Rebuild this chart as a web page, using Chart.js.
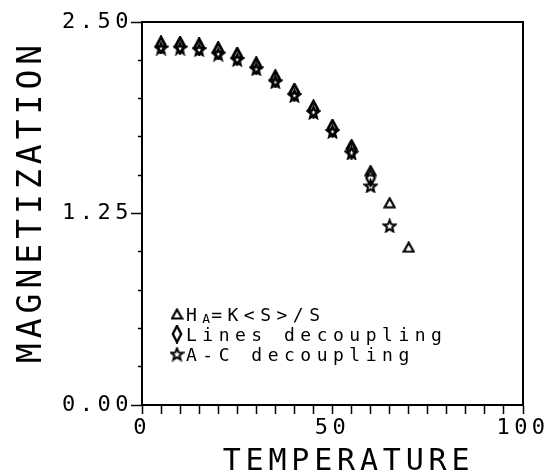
<!DOCTYPE html>
<html>
<head>
<meta charset="utf-8">
<script src="https://cdn.jsdelivr.net/npm/chart.js@4"></script>
<style>
  html, body { margin: 0; padding: 0; background: #fff; }
  #wrap { width: 550px; height: 476px; }
</style>
</head>
<body>
<div id="wrap"><canvas id="c"></canvas></div>
<script>
// Temperatures at which the magnetization was computed
const temperatures = [5, 10, 15, 20, 25, 30, 35, 40, 45, 50, 55, 60, 65, 70];
// H_A = K<S>/S approximation
const haValues = [2.37, 2.37, 2.36, 2.335, 2.30, 2.235, 2.15, 2.065, 1.955, 1.83, 1.70, 1.53, 1.32, 1.03];
// Lines decoupling
const linesValues = [2.35, 2.347, 2.337, 2.311, 2.275, 2.213, 2.128, 2.04, 1.929, 1.805, 1.664, 1.482];
// A-C decoupling
const acValues = [2.33, 2.33, 2.32, 2.29, 2.255, 2.195, 2.11, 2.02, 1.91, 1.785, 1.645, 1.43, 1.17];

const seriesLabels = ['H_A=K<S>/S', 'Lines decoupling', 'A-C decoupling'];
const xTickLabels = [0, 50, 100];
const yTickLabels = [0, 1.25, 2.5];
const xTitle = 'TEMPERATURE';
const yTitle = 'MAGNETIZATION';

const FONT = "'DejaVu Sans Mono', monospace";

// Open marker glyphs
function makeMarker(kind) {
  const c = document.createElement('canvas');
  const g = c.getContext('2d');
  let w, h;
  if (kind === 'triangle') { w = 13; h = 12; }
  else if (kind === 'diamond') { w = 12; h = 19; }
  else { w = 15; h = 15; }
  c.width = w; c.height = h;
  g.strokeStyle = '#000';
  g.lineJoin = 'miter';
  g.beginPath();
  if (kind === 'triangle') {
    g.lineWidth = 2.2;
    g.moveTo(w / 2, 1.5); g.lineTo(w - 1.5, h - 1.5); g.lineTo(1.5, h - 1.5); g.closePath();
  } else if (kind === 'diamond') {
    g.lineWidth = 2.4;
    g.moveTo(w / 2, 1.5); g.lineTo(w - 1.8, h / 2); g.lineTo(w / 2, h - 1.5); g.lineTo(1.8, h / 2); g.closePath();
  } else {
    g.lineWidth = 2;
    const cx = w / 2, cy = h / 2 + 0.6, ro = 6.2, ri = 2.7;
    for (let k = 0; k < 10; k++) {
      const r = k % 2 ? ri : ro;
      const a = -Math.PI / 2 + k * Math.PI / 5;
      const px = cx + r * Math.cos(a), py = cy + r * Math.sin(a);
      if (k === 0) g.moveTo(px, py); else g.lineTo(px, py);
    }
    g.closePath();
  }
  g.stroke();
  return c;
}

const triMark = makeMarker('triangle');
const diaMark = makeMarker('diamond');
const starMark = makeMarker('star');

const toPoints = vals => vals.map((v, i) => ({ x: temperatures[i], y: v }));
const isMajorY = v => yTickLabels.some(t => Math.abs(t - v) < 1e-6);

// Draw a label where "_X" is a subscript character
function drawRich(ctx, text, x, y, size) {
  const parts = text.split(/(_\w)/).filter(s => s.length);
  let cx = x;
  parts.forEach(p => {
    if (p[0] === '_') {
      ctx.font = `${Math.round(size * 0.7)}px ${FONT}`;
      ctx.letterSpacing = '1px';
      ctx.fillText(p[1], cx, y + 2);
      cx += ctx.measureText(p[1]).width;
    } else {
      ctx.font = `${size}px ${FONT}`;
      ctx.letterSpacing = '5.5px';
      ctx.fillText(p, cx, y);
      cx += ctx.measureText(p).width;
    }
  });
}

const spacingPlugin = {
  id: 'tickSpacing',
  beforeDraw(chart) { chart.ctx.letterSpacing = '4.5px'; }
};

const decorPlugin = {
  id: 'decor',
  afterDraw(chart) {
    const ctx = chart.ctx;
    const a = chart.chartArea;
    ctx.save();
    // frame: top and right edges
    ctx.strokeStyle = '#000';
    ctx.lineWidth = 2;
    ctx.beginPath();
    ctx.moveTo(a.left, a.top);
    ctx.lineTo(a.right, a.top);
    ctx.lineTo(a.right, a.bottom);
    ctx.stroke();

    ctx.fillStyle = '#000';
    // x-axis title
    ctx.font = `30px ${FONT}`;
    ctx.letterSpacing = '4.8px';
    ctx.textAlign = 'center';
    ctx.textBaseline = 'alphabetic';
    ctx.fillText(xTitle, (a.left + a.right) / 2 + 16, 470);
    // y-axis title
    ctx.save();
    ctx.translate(41, (a.top + a.bottom) / 2 - 12);
    ctx.rotate(-Math.PI / 2);
    ctx.font = `33px ${FONT}`;
    ctx.letterSpacing = '5px';
    ctx.fillText(yTitle, 0, 0);
    ctx.restore();

    // legend
    ctx.textAlign = 'left';
    const marks = [triMark, diaMark, starMark];
    chart.data.datasets.forEach((ds, i) => {
      const cy = a.top + 292 + i * 20;
      const m = marks[i];
      ctx.drawImage(m, a.left + 35 - m.width / 2, cy - m.height / 2);
      drawRich(ctx, ds.label, a.left + 44, cy + 6.5, 18);
    });
    ctx.restore();
  }
};

new Chart(document.getElementById('c'), {
  type: 'scatter',
  data: {
    datasets: [
      { label: seriesLabels[0], data: toPoints(haValues), pointStyle: triMark, pointRadius: 6, showLine: false },
      { label: seriesLabels[1], data: toPoints(linesValues), pointStyle: diaMark, pointRadius: 6, showLine: false },
      { label: seriesLabels[2], data: toPoints(acValues), pointStyle: starMark, pointRadius: 6, showLine: false }
    ]
  },
  options: {
    responsive: true,
    maintainAspectRatio: false,
    animation: false,
    layout: { padding: { top: 22, right: 27, bottom: 0, left: 0 } },
    plugins: { legend: { display: false }, tooltip: { enabled: false } },
    scales: {
      x: {
        type: 'linear', min: 0, max: 100,
        afterFit(s) { s.height = 71; },
        ticks: {
          stepSize: 5, autoSkip: false, maxRotation: 0, padding: 1, color: '#000',
          font: { family: FONT, size: 22 },
          callback: v => xTickLabels.includes(v) ? String(v) : ''
        },
        grid: { drawOnChartArea: false, tickLength: 9, tickColor: '#000', tickWidth: 1.5 },
        border: { color: '#000', width: 2 }
      },
      y: {
        min: 0, max: 2.5,
        afterFit(s) { s.width = 142; },
        ticks: {
          stepSize: 0.25, autoSkip: false, padding: -2, color: '#000',
          font: { family: FONT, size: 22 },
          callback: v => isMajorY(v) ? v.toFixed(2) : ''
        },
        grid: {
          drawOnChartArea: false, tickLength: 11, tickColor: '#000', tickWidth: 1.5,
          tickBorderDash: c => (c.tick && isMajorY(c.tick.value)) ? [] : [0, 7, 4, 40]
        },
        border: { color: '#000', width: 2 }
      }
    }
  },
  plugins: [spacingPlugin, decorPlugin]
});
</script>
</body>
</html>
